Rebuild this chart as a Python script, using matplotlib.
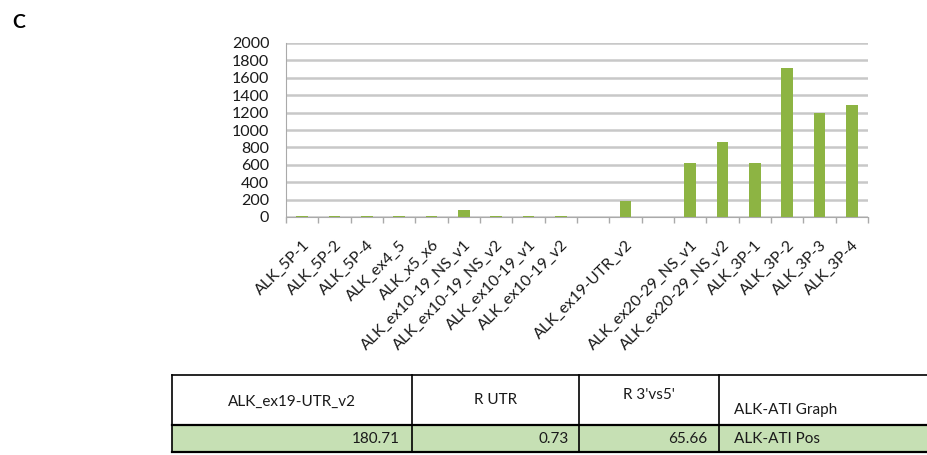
import matplotlib.pyplot as plt
import numpy as np

plt.rcParams['font.family'] = ['Lato', 'DejaVu Sans']

# chart data (empty strings are the blank categories in the original)
labels = ["ALK_5P-1", "ALK_5P-2", "ALK_5P-4", "ALK_ex4_5", "ALK_x5_x6",
          "ALK_ex10-19_NS_v1", "ALK_ex10-19_NS_v2", "ALK_ex10-19_v1",
          "ALK_ex10-19_v2", "", "ALK_ex19-UTR_v2", "",
          "ALK_ex20-29_NS_v1", "ALK_ex20-29_NS_v2", "ALK_3P-1", "ALK_3P-2",
          "ALK_3P-3", "ALK_3P-4"]
values = [8, 8, 8, 7, 7, 75, 6, 6, 6, 0, 180.71, 0,
          615, 860, 622, 1718, 1195, 1290]
yticks = list(range(0, 2001, 200))

# table data
tab_header = ["ALK_ex19-UTR_v2", "R UTR", "R 3'vs5'", "ALK-ATI Graph"]
tab_row = ["180.71", "0.73", "65.66", "ALK-ATI Pos"]

W, H = 927, 455
fig = plt.figure(figsize=(W / 100, H / 100), dpi=100)

# background axes in pixel coords for table + panel letter
bg = fig.add_axes([0, 0, 1, 1])
bg.set_xlim(0, W)
bg.set_ylim(H, 0)
bg.axis('off')

bg.text(12, 23, "C", fontsize=14, fontweight='bold', va='center', ha='left')

green_fill = '#c6e0b4'
tl, tr = 172, 927
y0, y1, y2 = 375, 425, 452
cols = [172, 412, 579, 719]
bg.fill_between([tl, tr], y1, y2, color=green_fill, lw=0)
bg.plot([tl, tr], [y0, y0], color='black', lw=1.2)
bg.plot([tl, tr], [y1, y1], color='black', lw=1.6)
bg.plot([tl, tr], [y2, y2], color='black', lw=1.6)
for cx in cols:
    bg.plot([cx, cx], [y0, y2], color='black', lw=1.2)

fs_t = 11
tc = '#1a1a1a'
bg.text((cols[0] + cols[1]) / 2, 402, tab_header[0], ha='center', va='center', fontsize=fs_t, color=tc)
bg.text((cols[1] + cols[2]) / 2, 400, tab_header[1], ha='center', va='center', fontsize=fs_t, color=tc)
bg.text((cols[2] + cols[3]) / 2, 395, tab_header[2], ha='center', va='center', fontsize=fs_t, color=tc)
bg.text(cols[3] + 15, 410, tab_header[3], ha='left', va='center', fontsize=fs_t, color=tc)

bg.text(cols[1] - 12, 439, tab_row[0], ha='right', va='center', fontsize=fs_t, color=tc)
bg.text(cols[2] - 10, 439, tab_row[1], ha='right', va='center', fontsize=fs_t, color=tc)
bg.text(cols[3] - 12, 439, tab_row[2], ha='right', va='center', fontsize=fs_t, color=tc)
bg.text(cols[3] + 15, 439, tab_row[3], ha='left', va='center', fontsize=fs_t, color=tc)

# bar chart
ax = fig.add_axes([286 / W, (H - 217) / H, 582 / W, 174 / H])
x = np.arange(len(labels))
ax.bar(x, values, width=0.37, color='#8db443', zorder=3)
ax.set_xlim(-0.5, len(labels) - 0.5)
ax.set_ylim(0, 2000)
ax.set_yticks(yticks)
ax.set_yticklabels([str(v) for v in yticks], fontsize=11.5, color=tc)
ax.tick_params(axis='y', length=0, pad=12)
ax.yaxis.grid(True, color='#c8c8c8', lw=1.8, zorder=0)

ax.set_xticks(x)
ax.set_xticklabels(labels, rotation=45, ha='right', rotation_mode='anchor',
                   fontsize=11.4, color=tc)
ax.tick_params(axis='x', length=0, pad=15)
ax.set_xticks(np.arange(-0.5, len(labels)), minor=True)
ax.tick_params(axis='x', which='minor', length=4, color='#aaaaaa', width=1)

for s in ['top', 'right']:
    ax.spines[s].set_visible(False)
ax.spines['left'].set_color('#aaaaaa')
ax.spines['bottom'].set_color('#aaaaaa')

fig.savefig('out.png', dpi=100)
